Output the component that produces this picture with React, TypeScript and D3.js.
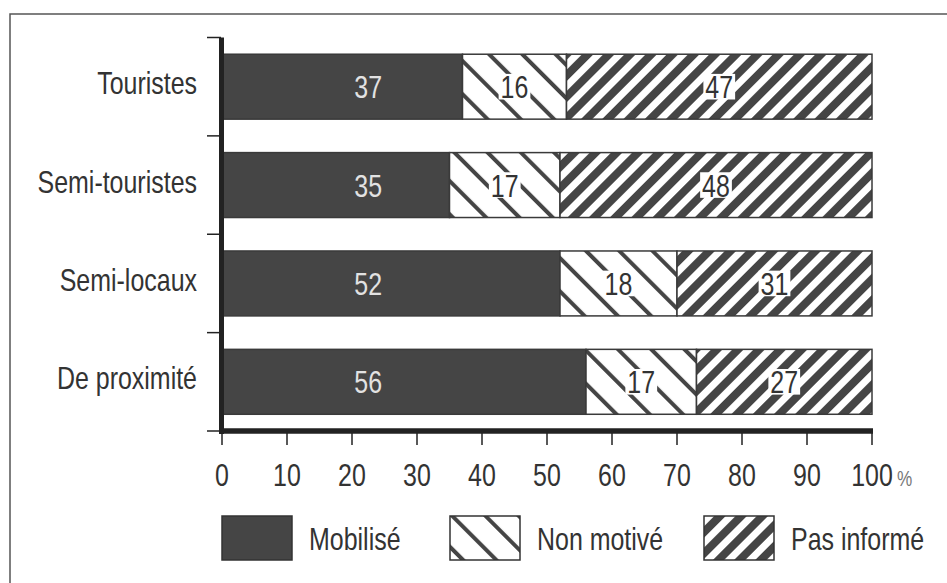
import React from "react";
import * as d3 from "d3";

const categories = ["Touristes", "Semi-touristes", "Semi-locaux", "De proximité"];
const mobilise = [37, 35, 52, 56];
const nonMotive = [16, 17, 18, 17];
const pasInforme = [47, 48, 31, 27];
const seriesNames = ["Mobilisé", "Non motivé", "Pas informé"];
const xTicks = [0, 10, 20, 30, 40, 50, 60, 70, 80, 90, 100];

const W = 947;
const H = 583;
const DARK = "#454545";
const INK = "#333";
const FONT = "'Liberation Sans', Arial, sans-serif";
const SQUEEZE = 0.78; // condensed type

const fills = ["solid", "url(#hatchNM)", "url(#hatchPI)"];

type TProps = {
  x: number;
  y: number;
  size: number;
  anchor?: "start" | "middle" | "end";
  fill?: string;
  children: React.ReactNode;
};

// Text drawn horizontally condensed around its anchor point
function T({ x, y, size, anchor = "start", fill = INK, children }: TProps) {
  return (
    <g transform={`translate(${x},${y}) scale(${SQUEEZE},1)`}>
      <text x={0} y={0} textAnchor={anchor} fontSize={size} fill={fill}>
        {children}
      </text>
    </g>
  );
}

export default function App() {
  const x = d3.scaleLinear().domain([0, 100]).range([222, 872]).clamp(true);
  const y = d3
    .scaleBand<string>()
    .domain(categories)
    .range([37.5, 431])
    .paddingInner(0.34)
    .paddingOuter(0.17);

  const series = [mobilise, nonMotive, pasInforme];
  const rows = categories.map((c, i) => {
    let acc = 0;
    return series.map((s, k) => {
      const v = s[i];
      const seg = { key: k, cat: c, v, x0: acc, x1: acc + v };
      acc += v;
      return seg;
    });
  });

  const bandBounds = d3.range(categories.length + 1).map((i) => y.range()[0] + i * y.step());
  const bw = y.bandwidth();
  const fsVal = 32;
  const fsCat = 32;

  return (
    <svg
      width={W}
      height={H}
      style={{ position: "absolute", left: 0, top: 0, background: "#fff" }}
      fontFamily={FONT}
    >
      <defs>
        <pattern id="hatchNM" patternUnits="userSpaceOnUse" width={23.5} height={23.5} patternTransform="rotate(-45)">
          <rect width={23.5} height={23.5} fill="#fff" />
          <rect x={0} width={4} height={23.5} fill={DARK} />
        </pattern>
        <pattern id="hatchPI" patternUnits="userSpaceOnUse" width={15} height={15} patternTransform="rotate(45)">
          <rect width={15} height={15} fill="#fff" />
          <rect x={0} width={8} height={15} fill={DARK} />
        </pattern>
      </defs>

      {/* outer frame */}
      <rect x={10} y={14} width={1000} height={700} fill="none" stroke="#555" strokeWidth={1.5} />

      {/* bars */}
      {rows.map((segs, i) =>
        segs.map((s) => {
          const x0 = x(s.x0);
          const x1 = x(s.x1);
          const yy = y(s.cat)!;
          return (
            <rect
              key={`${i}-${s.key}`}
              x={x0}
              y={yy}
              width={Math.max(0, x1 - x0)}
              height={bw}
              fill={s.key === 0 ? DARK : fills[s.key]}
              stroke="#3a3a3a"
              strokeWidth={1.5}
            />
          );
        })
      )}

      {/* value labels */}
      {rows.map((segs, i) =>
        segs.map((s) => {
          const yy = y(s.cat)! + bw / 2;
          const label = String(s.v);
          if (s.key === 0) {
            return (
              <T key={`l${i}-${s.key}`} x={x(22.5)} y={yy + fsVal * 0.36} anchor="middle" size={fsVal} fill="#e2e2e2">
                {label}
              </T>
            );
          }
          const cx = (x(s.x0) + x(s.x1)) / 2;
          const tw = label.length * fsVal * 0.556 * SQUEEZE + 4;
          const th = fsVal * 0.8;
          return (
            <g key={`l${i}-${s.key}`}>
              <rect x={cx - tw / 2} y={yy - th / 2} width={tw} height={th} fill="#fff" />
              <T x={cx} y={yy + fsVal * 0.36} anchor="middle" size={fsVal}>
                {label}
              </T>
            </g>
          );
        })
      )}

      {/* y axis */}
      <line x1={221.5} x2={221.5} y1={bandBounds[0]} y2={434} stroke="#222" strokeWidth={5} />
      {bandBounds.map((b, i) => (
        <line key={`yt${i}`} x1={207} x2={221} y1={b} y2={b} stroke="#222" strokeWidth={1.5} />
      ))}
      {categories.map((c) => (
        <T key={c} x={197} y={y(c)! + bw / 2 + fsCat * 0.36 - 4} anchor="end" size={fsCat}>
          {c}
        </T>
      ))}

      {/* x axis */}
      <line x1={219} x2={x(100) + 1} y1={431} y2={431} stroke="#222" strokeWidth={5.5} />
      {xTicks.map((t) => (
        <g key={`xt${t}`}>
          <line x1={x(t)} x2={x(t)} y1={433} y2={445} stroke="#222" strokeWidth={1.5} />
          <T x={x(t)} y={486} anchor="middle" size={fsVal}>
            {t}
          </T>
        </g>
      ))}
      <T x={897} y={486} size={22} fill="#777">
        %
      </T>

      {/* legend */}
      {seriesNames.map((name, k) => {
        const bx = [222, 450, 704][k];
        return (
          <g key={name}>
            <rect
              x={bx}
              y={516}
              width={70}
              height={44}
              fill={k === 0 ? DARK : fills[k]}
              stroke="#333"
              strokeWidth={1.5}
            />
            <T x={bx + 87} y={538 + fsCat * 0.36} size={fsCat}>
              {name}
            </T>
          </g>
        );
      })}
    </svg>
  );
}
